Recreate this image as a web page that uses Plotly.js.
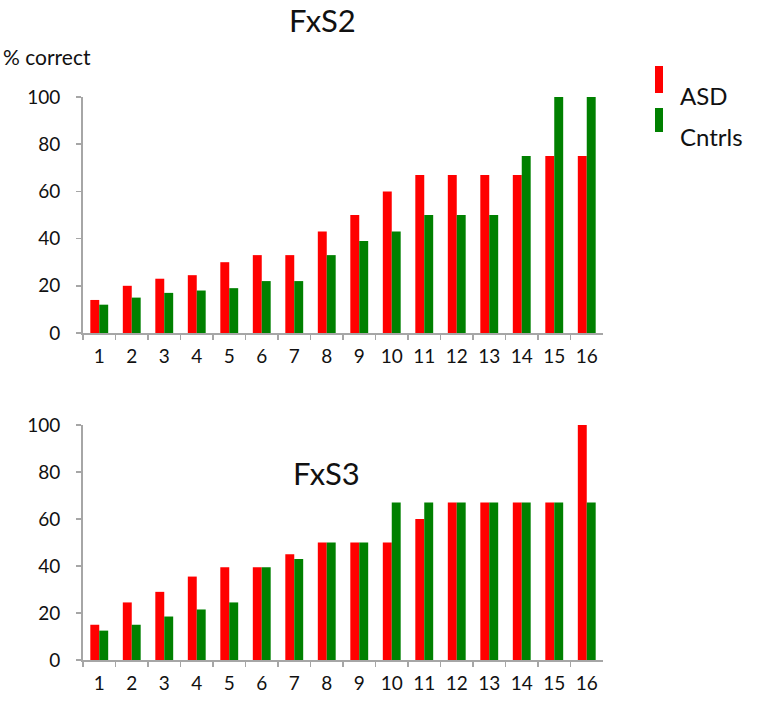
<!DOCTYPE html>
<html>
<head>
<meta charset="utf-8">
<script src="https://cdn.plot.ly/plotly-3.0.1.min.js"></script>
<style>
  body { margin: 0; background: #fff; }
  #chart { width: 760px; height: 708px; }
</style>
</head>
<body>
<div id="chart"></div>
<script>
// tasks 1..16
var tasks = ['1','2','3','4','5','6','7','8','9','10','11','12','13','14','15','16'];

// FxS2 (top panel), % correct
var fxs2_asd    = [14, 20, 23, 24.5, 30, 33, 33, 43, 50, 60, 67, 67, 67, 67, 75, 75];
var fxs2_cntrls = [12, 15, 17, 18, 19, 22, 22, 33, 39, 43, 50, 50, 50, 75, 100, 100];

// FxS3 (bottom panel), % correct
var fxs3_asd    = [15, 24.5, 29, 35.5, 39.5, 39.5, 45, 50, 50, 50, 60, 67, 67, 67, 67, 100];
var fxs3_cntrls = [12.5, 15, 18.5, 21.5, 24.5, 39.5, 43, 50, 50, 67, 67, 67, 67, 67, 67, 67];

var yticks = [0, 20, 40, 60, 80, 100];

var red = 'rgb(255,0,0)';
var green = 'rgb(0,128,0)';
var FONT = 'Lato, "Open Sans", sans-serif';

// page pixel -> paper coords
var W = 760, H = 708;
function px(x){ return x / W; }
function py(y){ return 1 - y / H; }

function bar(x, y, color, xa, ya){
  return {
    type: 'bar', x: x, y: y, xaxis: xa, yaxis: ya,
    marker: {color: color, line: {width: 0}},
    showlegend: false, hoverinfo: 'y'
  };
}

var data = [
  bar(tasks, fxs2_asd, red, 'x', 'y'),
  bar(tasks, fxs2_cntrls, green, 'x', 'y'),
  bar(tasks, fxs3_asd, red, 'x2', 'y2'),
  bar(tasks, fxs3_cntrls, green, 'x2', 'y2')
];

function xaxis(anchor){
  return {
    type: 'category', anchor: anchor,
    domain: [px(83), px(603)],
    range: [-0.5, 15.5],
    tickson: 'boundaries',
    ticks: 'outside', ticklen: 5, tickcolor: '#a6a6a6', tickwidth: 1.5,
    showline: true, linecolor: '#a6a6a6', linewidth: 2,
    showgrid: false, zeroline: false,
    ticklabelstandoff: 5,
    tickfont: {family: FONT, size: 19, color: '#111'},
    fixedrange: true
  };
}
function yaxis(anchor, y0, y1){
  return {
    anchor: anchor,
    domain: [py(y0), py(y1)],
    range: [0, 100],
    tickvals: yticks,
    ticks: 'outside', ticklen: 5, tickcolor: '#a6a6a6', tickwidth: 1.5,
    showline: true, linecolor: '#a6a6a6', linewidth: 2,
    showgrid: false, zeroline: false,
    ticklabelstandoff: 12,
    tickfont: {family: FONT, size: 19, color: '#111'},
    fixedrange: true
  };
}

function label(text, x, y, size, xanchor){
  return {text: text, xref: 'paper', yref: 'paper', x: px(x), y: py(y),
          xanchor: xanchor || 'center', yanchor: 'middle', showarrow: false,
          font: {family: FONT, size: size, color: '#111'}};
}

var layout = {
  width: W, height: H,
  margin: {l: 0, r: 0, t: 0, b: 0},
  paper_bgcolor: '#fff', plot_bgcolor: '#fff',
  barmode: 'group', bargap: 0.45, bargroupgap: 0,
  showlegend: false,
  xaxis: xaxis('y'),
  yaxis: yaxis('x', 333, 97),
  xaxis2: xaxis('y2'),
  yaxis2: yaxis('x2', 660, 425),
  annotations: [
    label('FxS2', 322, 20, 31),
    label('% correct', 1, 56, 21, 'left'),
    label('FxS3', 326, 473, 31),
    label('ASD', 678, 96, 24, 'left'),
    label('Cntrls', 678, 137, 24, 'left')
  ],
  shapes: [
    {type: 'rect', xref: 'paper', yref: 'paper', x0: px(655), x1: px(663), y0: py(93), y1: py(66),
     fillcolor: red, line: {width: 0}},
    {type: 'rect', xref: 'paper', yref: 'paper', x0: px(655), x1: px(663), y0: py(132), y1: py(108),
     fillcolor: green, line: {width: 0}}
  ]
};

Plotly.newPlot('chart', data, layout, {displayModeBar: false, staticPlot: true});
</script>
</body>
</html>
